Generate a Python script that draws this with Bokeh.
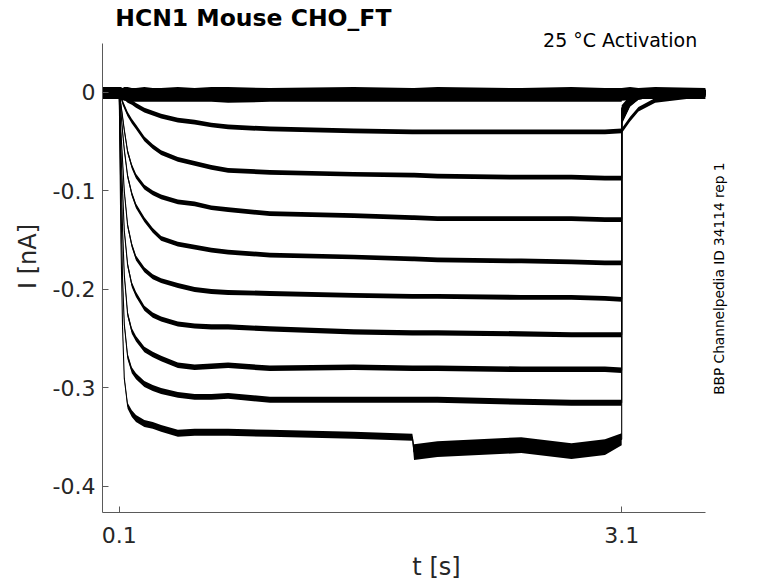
import math
from bokeh.plotting import figure
from bokeh.models import Range1d, FixedTicker, Label, ColumnDataSource
from bokeh.embed import file_html
from bokeh.resources import INLINE

# ---- data (t in s, I in nA) ----
T = [0.0, 0.1, 0.11, 0.12, 0.13, 0.15, 0.175, 0.2, 0.25, 0.3, 0.35, 0.45, 0.55, 0.65, 0.75, 1.0, 1.5,
     1.85, 1.86, 2.0, 2.5, 2.8, 3.0, 3.1, 3.1, 3.15, 3.2, 3.3, 3.6]

TRACE_0A = [0.001, 0.001, 0.001, 0.0, 0.001, 0.001, 0.0, 0.0, 0.001, 0.0, 0.0, 0.001, 0.0, 0.001, 0.001, 0.0, 0.001,
            0.0, 0.0, 0.001, 0.0, 0.001, 0.0, 0.0, 0.0, 0.001, 0.0, 0.001, 0.0]
TRACE_0B = [-0.002, -0.002, -0.003, -0.003, -0.004, -0.004, -0.005, -0.005, -0.005, -0.005, -0.005, -0.005, -0.005,
            -0.005, -0.006, -0.005, -0.005,
            -0.005, -0.005, -0.005, -0.005, -0.005, -0.005, -0.005, -0.004, -0.003, -0.002, -0.002, -0.002]
TRACE_1 = [0.0, 0.0, -0.001, -0.003, -0.005, -0.008, -0.010, -0.013, -0.018, -0.021, -0.024, -0.028, -0.030,
           -0.033, -0.035, -0.037, -0.039,
           -0.040, -0.040, -0.040, -0.040, -0.040, -0.040, -0.039, -0.039, -0.027, -0.017, -0.008, -0.002]
TRACE_2 = [0.0, 0.0, -0.004, -0.010, -0.014, -0.022, -0.029, -0.035, -0.047, -0.055, -0.061, -0.068, -0.072,
           -0.076, -0.079, -0.081, -0.083,
           -0.084, -0.084, -0.085, -0.086, -0.086, -0.087, -0.087, -0.030, -0.012, -0.005, -0.002, 0.0]
TRACE_3 = [0.0, 0.0, -0.012, -0.025, -0.038, -0.060, -0.075, -0.085, -0.096, -0.102, -0.106, -0.111, -0.113,
           -0.117, -0.119, -0.123, -0.125,
           -0.127, -0.127, -0.128, -0.128, -0.128, -0.129, -0.129, -0.028, -0.011, -0.005, -0.002, 0.0]
TRACE_4 = [0.0, 0.0, -0.020, -0.040, -0.058, -0.085, -0.103, -0.115, -0.129, -0.140, -0.148, -0.154, -0.157,
           -0.160, -0.162, -0.165, -0.167,
           -0.169, -0.169, -0.170, -0.171, -0.172, -0.173, -0.173, -0.026, -0.010, -0.004, -0.001, 0.0]
TRACE_5 = [0.0, 0.0, -0.040, -0.070, -0.100, -0.135, -0.155, -0.168, -0.180, -0.187, -0.191, -0.196, -0.200,
           -0.202, -0.203, -0.204, -0.206,
           -0.207, -0.207, -0.207, -0.208, -0.208, -0.209, -0.210, -0.024, -0.010, -0.004, -0.001, 0.0]
TRACE_6 = [0.0, 0.0, -0.060, -0.100, -0.140, -0.175, -0.195, -0.205, -0.219, -0.226, -0.230, -0.235, -0.237,
           -0.238, -0.238, -0.240, -0.243,
           -0.244, -0.244, -0.244, -0.245, -0.246, -0.246, -0.246, -0.022, -0.009, -0.004, -0.001, 0.0]
TRACE_7 = [0.0, 0.0, -0.080, -0.140, -0.185, -0.225, -0.242, -0.250, -0.261, -0.266, -0.270, -0.277, -0.279,
           -0.278, -0.277, -0.280, -0.279,
           -0.280, -0.280, -0.280, -0.281, -0.281, -0.281, -0.282, -0.020, -0.008, -0.003, -0.001, 0.0]
TRACE_8 = [0.0, 0.0, -0.110, -0.190, -0.235, -0.268, -0.282, -0.288, -0.296, -0.300, -0.303, -0.307, -0.309,
           -0.309, -0.308, -0.312, -0.312,
           -0.312, -0.312, -0.312, -0.314, -0.315, -0.315, -0.315, -0.018, -0.007, -0.003, -0.001, 0.0]
TRACE_9 = [0.0, 0.0, -0.150, -0.240, -0.290, -0.318, -0.326, -0.331, -0.336, -0.338, -0.341, -0.346, -0.345,
           -0.345, -0.345, -0.346, -0.348,
           -0.350, -0.365, -0.362, -0.358, -0.364, -0.360, -0.352, -0.016, -0.006, -0.002, -0.001, 0.0]

TRACES = [TRACE_0A, TRACE_0B, TRACE_1, TRACE_2, TRACE_3, TRACE_4,
          TRACE_5, TRACE_6, TRACE_7, TRACE_8, TRACE_9]

# half-width of the noise band of each trace (nA)
NOISE = [0.0045, 0.0045, 0.0024, 0.0024, 0.0024, 0.0024, 0.0025, 0.0026, 0.0028, 0.003, None]
NOISE_LAST = [0.004, 0.004, 0.0015, 0.0015, 0.002, 0.003, 0.0035, 0.0035, 0.0035, 0.0035, 0.0035, 0.0035, 0.0035,
              0.0035, 0.0035, 0.0035, 0.0035,
              0.0035, 0.008, 0.008, 0.008, 0.008, 0.008, 0.006, 0.003, 0.003, 0.003, 0.003, 0.003]

X_TICKS = [0.1, 3.1]
X_TICK_LABELS = ["0.1", "3.1"]
Y_TICKS = [-0.4, -0.3, -0.2, -0.1, 0.0]
Y_TICK_LABELS = ["-0.4", "-0.3", "-0.2", "-0.1", "0"]
X_AXIS_SPAN = (0.0, 3.6)
Y_AXIS_SPAN = (-0.4264, 0.0497)

TITLE = "HCN1  Mouse  CHO_FT"
SUBTITLE = "25 \u00b0C  Activation"
SIDE_NOTE = "BBP Channelpedia ID 34114 rep 1"

FONT = "DejaVu Sans"
AXIS_COLOR = "#5a5a5a"
TEXT_COLOR = "#262626"

# frame extends above/right of the axes so the annotation texts are not clipped;
# the axis lines are limited to the data span with 'bounds'
p = figure(frame_width=668, frame_height=512,
           x_range=Range1d(0.0, 3.9885), y_range=Range1d(-0.4264, 0.0934),
           output_backend="svg", toolbar_location=None,
           min_border_left=102, min_border_right=0,
           min_border_top=0, min_border_bottom=0)
p.outline_line_color = None
p.xgrid.visible = False
p.ygrid.visible = False
p.background_fill_color = "white"
p.border_fill_color = "white"

for i, tr in enumerate(TRACES):
    if NOISE[i] is None:
        lo = [v - h for v, h in zip(tr, NOISE_LAST)]
        hi = [v + h for v, h in zip(tr, NOISE_LAST)]
    else:
        lo = [v - NOISE[i] for v in tr]
        hi = [v + NOISE[i] for v in tr]
    src = ColumnDataSource(dict(t=T, i=tr, lo=lo, hi=hi))
    p.varea(x="t", y1="lo", y2="hi", source=src, fill_color="black")
    p.line(x="t", y="i", source=src, line_color="black", line_width=1.1)

# axes
xa = p.xaxis[0]
ya = p.yaxis[0]
xa.bounds = X_AXIS_SPAN
ya.bounds = Y_AXIS_SPAN
xa.ticker = FixedTicker(ticks=X_TICKS)
ya.ticker = FixedTicker(ticks=Y_TICKS)
xa.major_label_overrides = {t: l for t, l in zip(X_TICKS, X_TICK_LABELS)}
ya.major_label_overrides = {t: l for t, l in zip(Y_TICKS, Y_TICK_LABELS)}
for ax in (xa, ya):
    ax.axis_line_color = AXIS_COLOR
    ax.axis_line_width = 1
    ax.major_tick_line_color = AXIS_COLOR
    ax.major_tick_in = 6
    ax.major_tick_out = 0
    ax.minor_tick_line_color = None
    ax.major_label_text_font = FONT
    ax.major_label_text_font_size = "22px"
    ax.major_label_text_color = TEXT_COLOR
    ax.axis_label_text_font = FONT
    ax.axis_label_text_font_size = "24px"
    ax.axis_label_text_font_style = "normal"
    ax.axis_label_text_color = TEXT_COLOR
xa.axis_label = "t [s]"
ya.axis_label = "I [nA]"
xa.major_label_standoff = 14
ya.major_label_standoff = 7
xa.axis_label_standoff = 7
ya.axis_label_standoff = 8

p.add_layout(Label(x=0.076, y=0.0755, text=TITLE, text_font=FONT, text_font_size="23.5px",
                   text_font_style="bold", text_color="black", text_baseline="alphabetic"))
p.add_layout(Label(x=3.587, y=0.0535, text=SUBTITLE, text_font=FONT, text_font_size="19px",
                   text_color="black", text_align="right", text_baseline="alphabetic"))
p.add_layout(Label(x=3.683, y=-0.189, text=SIDE_NOTE, text_font=FONT, text_font_size="13.7px",
                   text_color="black", text_align="center", text_baseline="middle",
                   angle=math.pi / 2))

open("out.html", "w").write(file_html(p, INLINE))
